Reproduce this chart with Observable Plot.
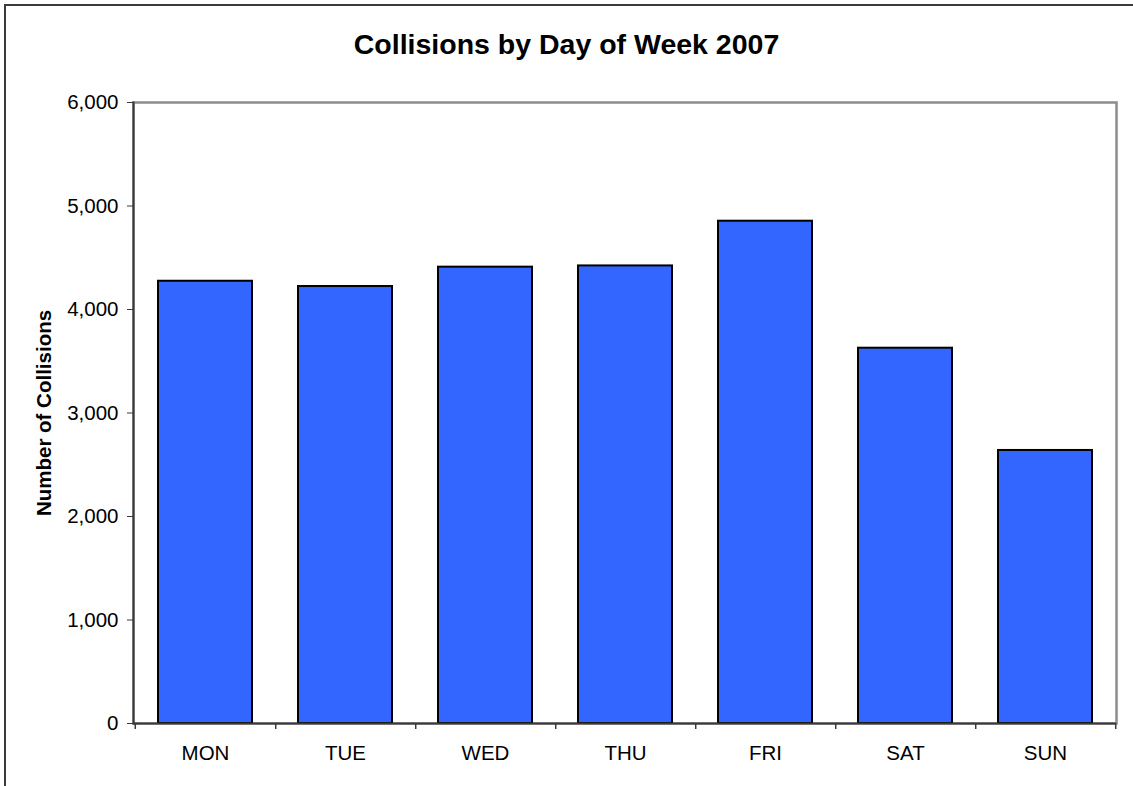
<!DOCTYPE html>
<html>
<head>
<meta charset="utf-8">
<script src="https://cdn.jsdelivr.net/npm/d3@7"></script>
<script src="https://cdn.jsdelivr.net/npm/@observablehq/plot@0.6"></script>
<style>
  html, body { margin: 0; padding: 0; background: #fff; overflow: hidden; }
  body { width: 1133px; height: 786px; position: relative; font-family: Arial, "Liberation Sans", sans-serif; }
  #border { position: absolute; left: 4px; top: 4px; width: 1300px; height: 1000px; border-left: 2px solid #3a3a3a; border-top: 2px solid #3a3a3a; pointer-events: none; }
  #title { height: 80px; box-sizing: border-box; padding-top: 30px; line-height: 29px; font-size: 28.5px; font-weight: bold; text-align: center; color: #000; }
  #chart svg { display: block; }
</style>
</head>
<body>
<div id="border"></div>
<div id="title">Collisions by Day of Week 2007</div>
<div id="chart"></div>
<script>
const days = ["MON", "TUE", "WED", "THU", "FRI", "SAT", "SUN"];
const collisions = [4273, 4222, 4409, 4421, 4853, 3626, 2638];
const yTicks = [0, 1000, 2000, 3000, 4000, 5000, 6000];

const data = days.map((d, i) => ({day: d, value: collisions[i]}));

const width = 1133, height = 706;
const marginLeft = 133, marginRight = 17, marginTop = 22, marginBottom = 63;
const step = (width - marginLeft - marginRight) / days.length;

const chart = Plot.plot({
  width, height, marginLeft, marginRight, marginTop, marginBottom,
  style: {fontFamily: 'Arial, "Liberation Sans", sans-serif', fontSize: "20.5px", color: "#000", background: "#fff"},
  x: {domain: days, paddingInner: 0.33, paddingOuter: 0.165, label: null},
  y: {domain: [0, 6000], ticks: yTicks, tickFormat: d3.format(","), label: null},
  marks: [
    Plot.frame({stroke: "#8c8c8c", strokeWidth: 2.5}),
    Plot.barY(data, {x: "day", y: "value", fill: "#3366FF", stroke: "#000", strokeWidth: 2}),
    Plot.axisX({tickSize: 0, tickPadding: 22, fontSize: "20.5px"}),
    Plot.axisY({ticks: yTicks, tickFormat: d3.format(","), tickSize: 6, tickPadding: 9, fontSize: "20.5px", stroke: "#3a3a3a",
      label: "Number of Collisions", labelAnchor: "center", labelArrow: "none", labelOffset: 97}),
    Plot.ruleX([days[0]], {y1: 0, y2: -58, dx: -step / 2, stroke: "#3a3a3a", strokeWidth: 1.5}),
    Plot.ruleX(days, {y1: 0, y2: -58, dx: step / 2, stroke: "#3a3a3a", strokeWidth: 1.5}),
    Plot.ruleY([0], {stroke: "#3a3a3a", strokeWidth: 2}),
    Plot.frame({anchor: "left", stroke: "#3a3a3a", strokeWidth: 2})
  ]
});

// bold y-axis label
chart.querySelectorAll("g[aria-label='y-axis label'] text").forEach(t => { t.setAttribute("font-weight", "bold"); t.setAttribute("font-size", "20.5px"); });
document.getElementById("chart").appendChild(chart);
</script>
</body>
</html>
